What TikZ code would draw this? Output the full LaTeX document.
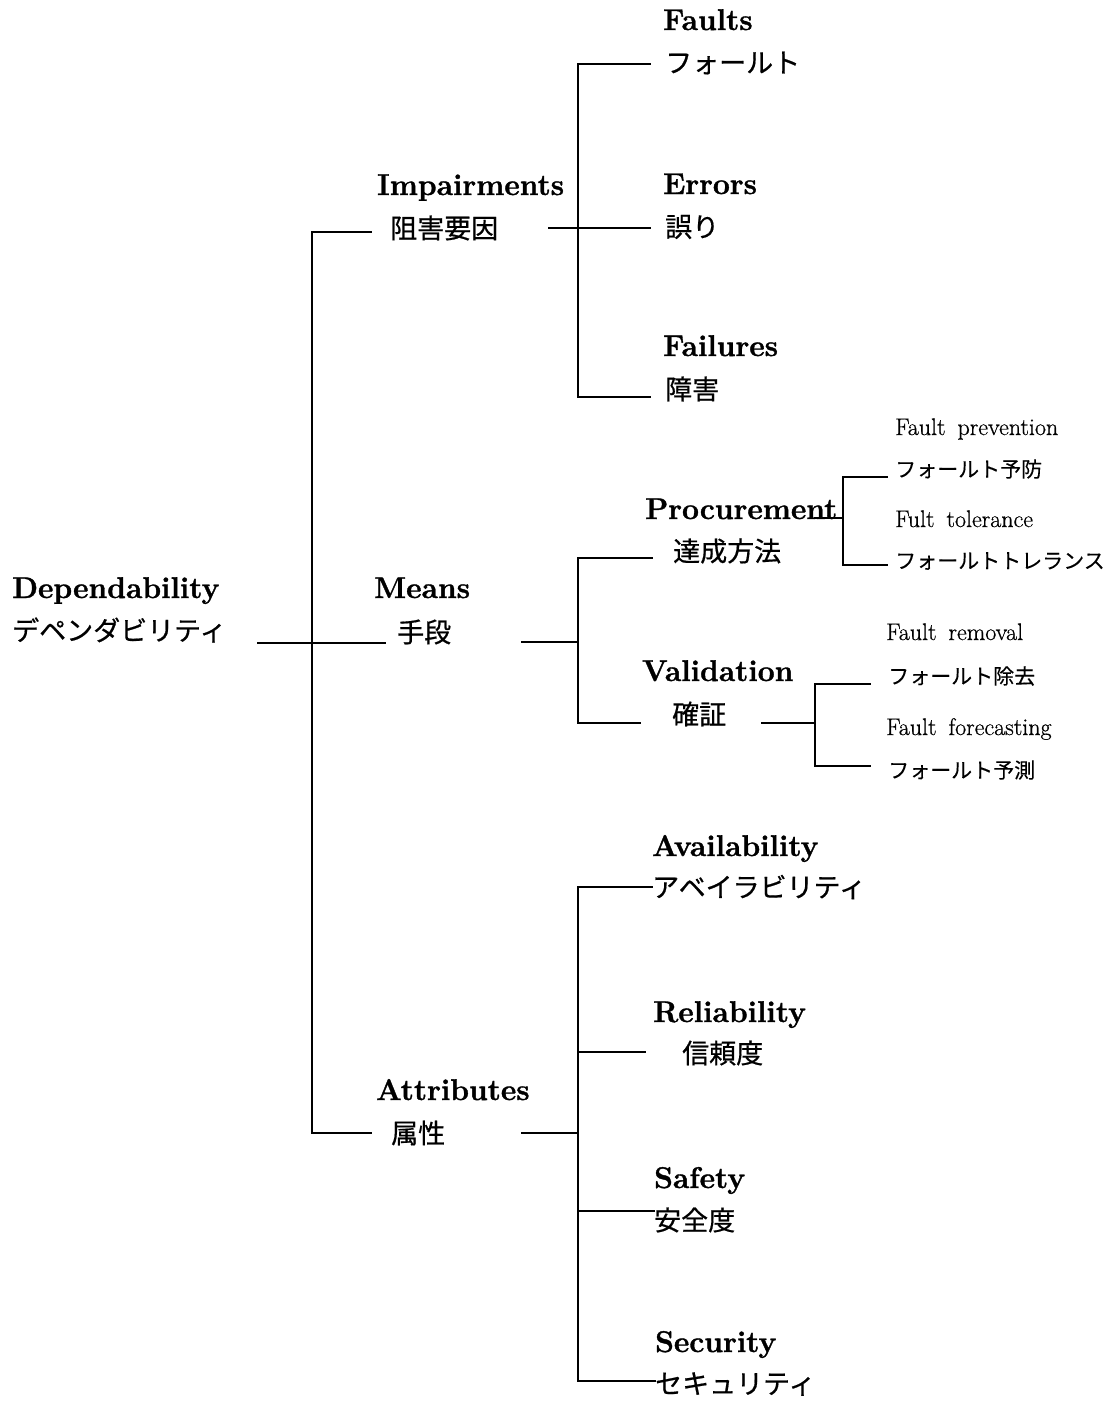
\documentclass[tikz,border=0pt]{standalone}
\usepackage{fontspec}
\setmainfont{Latin Modern Roman}[BoldFeatures={FakeBold=1.2}]
\newfontfamily\smallrm{Latin Modern Roman}[FakeBold=0.6]
\newfontfamily\jp{Noto Sans CJK JP}[FakeBold=0.6]
\newfontfamily\jpsmall{Noto Sans CJK JP}[FakeBold=0.2]
\tikzset{
  head/.style={anchor=base west, inner sep=0pt, font=\fontsize{30}{33}\selectfont\bfseries},
  jlab/.style={anchor=west, inner sep=0pt, font=\fontsize{27}{30}\selectfont\jp},
  small/.style={anchor=base west, inner sep=0pt, font=\fontsize{24}{28}\selectfont\smallrm},
  jsmall/.style={anchor=west, inner sep=0pt, font=\fontsize{21}{24}\selectfont\jpsmall},
  tree/.style={line width=1.4pt, line cap=rect}
}
\begin{document}
\begin{tikzpicture}[x=1pt,y=-1pt]
\useasboundingbox (0,0) rectangle (1119,1401);

% root
\node[head] (dep)  at (12,598) {Dependability};
\node[jlab] (depJ) at (12,630) {デペンダビリティ};

% first level
\node[head] (imp)  at (377,195) {Impairments};
\node[jlab] (impJ) at (390,228) {阻害要因};
\node[head] (mea)  at (374,598) {Means};
\node[jlab] (meaJ) at (397,632) {手段};
\node[head] (att)  at (376,1100) {Attributes};
\node[jlab] (attJ) at (391,1133) {属性};

% impairments
\node[head] (flt)  at (663,30) {Faults};
\node[jlab] (fltJ) at (665,63) {フォールト};
\node[head] (err)  at (663,194) {Errors};
\node[jlab] (errJ) at (665,227) {誤り};
\node[head] (fai)  at (663,356) {Failures};
\node[jlab] (faiJ) at (665,389) {障害};

% means
\node[head] (pro)  at (645,519) {Procurement};
\node[jlab] (proJ) at (673,551) {達成方法};
\node[head] (val)  at (642,681) {Validation};
\node[jlab] (valJ) at (672,714) {確証};

\node[small]  (fp)   at (895,435) {Fault\hspace{0.5em}prevention};
\node[jsmall] (fpJ)  at (895,469) {フォールト予防};
\node[small]  (ft)   at (895,527) {Fult\hspace{0.5em}tolerance};
\node[jsmall] (ftJ)  at (895,561) {フォールトトレランス};
\node[small]  (fr)   at (886,640) {Fault\hspace{0.5em}removal};
\node[jsmall] (frJ)  at (888,676) {フォールト除去};
\node[small]  (ff)   at (886,735) {Fault\hspace{0.5em}forecasting};
\node[jsmall] (ffJ)  at (888,770) {フォールト予測};

% attributes
\node[head] (ava)  at (652,856) {Availability};
\node[jlab] (avaJ) at (652,887) {アベイラビリティ};
\node[head] (rel)  at (653,1022) {Reliability};
\node[jlab] (relJ) at (682,1053) {信頼度};
\node[head] (saf)  at (654,1188) {Safety};
\node[jlab] (safJ) at (654,1220) {安全度};
\node[head] (sec)  at (655,1352) {Security};
\node[jlab] (secJ) at (655,1384) {セキュリティ};

% root trunk and its stubs
\coordinate (r0)  at (258,643);
\coordinate (rA)  at (312,232);
\coordinate (rB)  at (312,643);
\coordinate (rC)  at (312,1133);
\coordinate (rAe) at (371,232);
\coordinate (rBe) at (385,643);
\coordinate (rCe) at (371,1133);
\draw[tree] (rA) -- (rC);
\draw[tree] (r0) -- (rB) -- (rBe);
\draw[tree] (rA) -- (rAe);
\draw[tree] (rC) -- (rCe);

% impairments branch
\coordinate (iS)  at (549,228);
\coordinate (iA)  at (578,64);
\coordinate (iB)  at (578,228);
\coordinate (iC)  at (578,397);
\coordinate (iAe) at (650,64);
\coordinate (iBe) at (650,228);
\coordinate (iCe) at (650,397);
\draw[tree] (iA) -- (iC);
\draw[tree] (iS) -- (iB) -- (iBe);
\draw[tree] (iA) -- (iAe);
\draw[tree] (iC) -- (iCe);

% means branch
\coordinate (mS)  at (522,642);
\coordinate (mA)  at (578,558);
\coordinate (mB)  at (578,642);
\coordinate (mC)  at (578,723);
\coordinate (mAe) at (652,558);
\coordinate (mCe) at (640,723);
\draw[tree] (mA) -- (mC);
\draw[tree] (mS) -- (mB);
\draw[tree] (mA) -- (mAe);
\draw[tree] (mC) -- (mCe);

% procurement
\coordinate (pS)  at (815,518);
\coordinate (pA)  at (843,477);
\coordinate (pB)  at (843,518);
\coordinate (pC)  at (843,565);
\coordinate (pAe) at (887,477);
\coordinate (pCe) at (887,565);
\draw[tree] (pA) -- (pC);
\draw[tree] (pS) -- (pB);
\draw[tree] (pA) -- (pAe);
\draw[tree] (pC) -- (pCe);

% validation
\coordinate (vS)  at (762,723);
\coordinate (vA)  at (815,684);
\coordinate (vB)  at (815,723);
\coordinate (vC)  at (815,766);
\coordinate (vAe) at (870,684);
\coordinate (vCe) at (870,766);
\draw[tree] (vA) -- (vC);
\draw[tree] (vS) -- (vB);
\draw[tree] (vA) -- (vAe);
\draw[tree] (vC) -- (vCe);

% attributes branch
\coordinate (aS)  at (522,1133);
\coordinate (aA)  at (578,887);
\coordinate (aB)  at (578,1052);
\coordinate (aM)  at (578,1133);
\coordinate (aC)  at (578,1211);
\coordinate (aD)  at (578,1381);
\draw[tree] (aA) -- (aD);
\draw[tree] (aS) -- (aM);
\draw[tree] (aA) -- (avaJ.west |- aA);
\draw[tree] (aB) -- (645,1052);
\draw[tree] (aC) -- (safJ.west |- aC);
\draw[tree] (aD) -- (secJ.west |- aD);
\end{tikzpicture}
\end{document}
